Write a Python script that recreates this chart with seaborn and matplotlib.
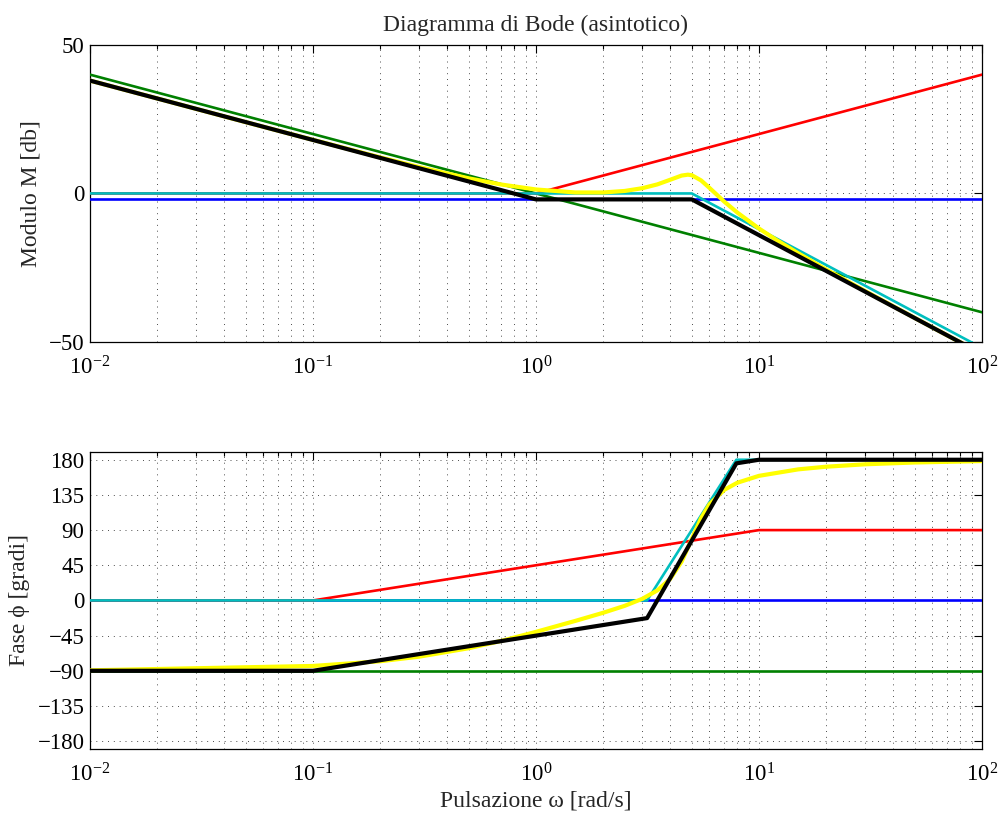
import numpy as np
import pandas as pd
import matplotlib
matplotlib.use('Agg')
import matplotlib.pyplot as plt
from matplotlib.ticker import LogLocator, NullFormatter, FixedLocator
import seaborn as sns

sns.set_style('white')
plt.rcParams['font.family'] = ['Liberation Serif', 'DejaVu Serif']
plt.rcParams['mathtext.fontset'] = 'stix'

# --- asymptotic magnitude pieces (omega breakpoints, dB) ---
w_blue = [0.01, 100]
mag_blue = [-2, -2]
w_green = [0.01, 100]
mag_green = [40, -40]
w_red = [0.01, 1, 100]
mag_red = [0, 0, 40]
w_cyan = [0.01, 5, 100]
mag_cyan = [0, 0, -52]
w_black = [0.01, 1, 5, 100]
mag_black = [38, -2, -2, -54]

w_real = [0.01, 0.02, 0.05, 0.1, 0.2, 0.3, 0.5, 0.7, 1.0, 1.5, 2.0, 2.5, 3.0,
          3.5, 4.0, 4.5, 4.8, 5.0, 5.5, 6.0, 7.0, 8.0, 10, 12, 15, 20, 30,
          50, 70, 100]
mag_real = [38.0, 32.0, 24.0, 18.05, 12.15, 8.86, 5.08, 3.0, 1.34, 0.34, 0.33,
            0.84, 1.77, 3.04, 4.61, 6.02, 6.32, 6.14, 4.40, 1.87, -2.80, -6.44,
            -11.8, -15.7, -20.14, -25.56, -32.9, -41.92, -47.8, -54.0]

# --- asymptotic phase pieces (deg) ---
ph_w_blue = [0.01, 100]
ph_blue = [0, 0]
ph_w_green = [0.01, 100]
ph_green = [-90, -90]
ph_w_red = [0.01, 0.1, 10, 100]
ph_red = [0, 0, 90, 90]
ph_w_cyan = [0.01, 3.15, 7.92, 100]
ph_cyan = [0, 0, 180, 180]
ph_w_black = [0.01, 0.1, 3.15, 7.92, 10, 100]
ph_black = [-90, -90, -22.6, 175.4, 180, 180]

# real phase (yellow)
ph_w_real = [0.01, 0.1, 0.2, 0.3, 0.5, 0.7, 1.0, 1.5, 2.0, 2.5, 3.0, 3.5, 4.0,
             4.5, 5.0, 5.5, 6.0, 7.0, 8.0, 10, 15, 20, 30, 50, 100]
ph_real = [-89.4, -83.8, -77.8, -71.9, -61.1, -51.7, -40.2, -26.2, -15.8, -6.9,
           2.1, 12.8, 27.6, 49.6, 78.7, 105.2, 123.1, 141.6, 150.6, 159.4,
           167.7, 171.1, 174.2, 176.5, 178.3]

c_blue = (0, 0, 1)
c_green = (0, 0.5, 0)
c_red = (1, 0, 0)
c_cyan = (0, 0.75, 0.75)
c_yellow = (1, 1, 0)
c_black = (0, 0, 0)

fig = plt.figure(figsize=(10.03, 8.14), dpi=100)
ax1 = fig.add_axes([0.0897, 0.5799, 0.8893, 0.3649])
ax2 = fig.add_axes([0.0897, 0.0799, 0.8893, 0.3649])

thin = 1.9
thick = 3.0

mag_series = [
    (w_blue, mag_blue, c_blue, thin),
    (w_green, mag_green, c_green, thin),
    (w_red, mag_red, c_red, thin),
    (w_cyan, mag_cyan, c_cyan, thin),
    (w_real, mag_real, c_yellow, thick),
    (w_black, mag_black, c_black, thick),
]
ph_series = [
    (ph_w_blue, ph_blue, c_blue, thin),
    (ph_w_green, ph_green, c_green, thin),
    (ph_w_red, ph_red, c_red, thin),
    (ph_w_cyan, ph_cyan, c_cyan, thin),
    (ph_w_real, ph_real, c_yellow, thick),
    (ph_w_black, ph_black, c_black, thick),
]

for ax, series in [(ax1, mag_series), (ax2, ph_series)]:
    ax.set_xscale('log')
    for i, (x, y, c, lw) in enumerate(series):
        sns.lineplot(x=x, y=y, ax=ax, color=c, linewidth=lw, estimator=None,
                     sort=False, zorder=3 + i)
    ax.set_xlim(0.01, 100)
    ax.xaxis.set_major_locator(LogLocator(base=10, numticks=10))
    ax.xaxis.set_minor_locator(LogLocator(base=10, subs=np.arange(2, 10), numticks=20))
    ax.xaxis.set_minor_formatter(NullFormatter())
    ax.tick_params(which='both', direction='in', top=True, right=True,
                   labelsize=16.5, width=0.8, colors='black')
    ax.tick_params(which='major', length=5.5)
    ax.tick_params(which='minor', length=3)
    ax.tick_params(axis='x', which='major', pad=10)
    ax.tick_params(axis='y', which='major', pad=4)
    ax.grid(True, which='major', axis='both', color='0.3',
            linestyle=(0, (1, 5)), linewidth=0.7)
    ax.grid(True, which='minor', axis='x', color='0.3',
            linestyle=(0, (1, 5)), linewidth=0.7)
    for s in ax.spines.values():
        s.set_color('black')
        s.set_linewidth(0.9)
        s.set_visible(True)

ax1.set_ylim(-50, 50)
ax1.yaxis.set_major_locator(FixedLocator([-50, 0, 50]))
ax1.set_ylabel('Modulo M [db]', fontsize=17)
ax1.yaxis.set_label_coords(-0.054, 0.5)
ax1.set_title('Diagramma di Bode (asintotico)', fontsize=17, pad=10)

ax2.set_ylim(-190, 190)
ax2.yaxis.set_major_locator(FixedLocator(list(range(-180, 181, 45))))
ax2.set_ylabel('Fase ϕ [gradi]', fontsize=17)
ax2.yaxis.set_label_coords(-0.067, 0.5)
ax2.set_xlabel('Pulsazione ω [rad/s]', fontsize=17)
ax2.xaxis.set_label_coords(0.5, -0.14)

fig.savefig('out.png', dpi=100)
